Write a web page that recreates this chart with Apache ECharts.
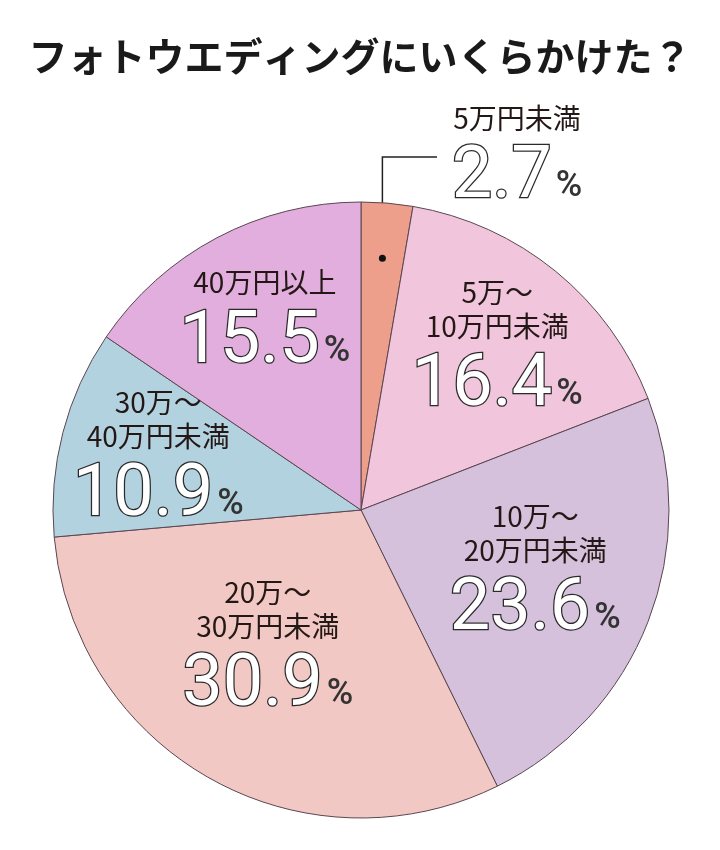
<!DOCTYPE html>
<html>
<head>
<meta charset="utf-8">
<script src="https://cdn.jsdelivr.net/npm/echarts@6/dist/echarts.min.js"></script>
<style>html,body{margin:0;padding:0;background:#fff;}#c{width:720px;height:850px;}</style>
</head>
<body>
<div id="c"></div>
<script>
const titleText = 'フォトウエディングにいくらかけた？';
const categories = ['5万円未満', '5万～10万円未満', '10万～20万円未満', '20万～30万円未満', '30万～40万円未満', '40万円以上'];
const values = [2.7, 16.4, 23.6, 30.9, 10.9, 15.5];
const colors = ['#EE9F8B', '#F1C5DB', '#D6C1DD', '#F1C8C3', '#B3D2E0', '#E2AEDD'];

// layout / styling
const CX = 361, CY = 510, R = 308;
const labelDist = [0, 214, 184, 164, 210, 214];
const labelAngleAdj = [0, 0.3, -2.5, 5.3, 0.6, 1.2];
const labelDy = 4;

const total = values.reduce((a, b) => a + b, 0);
function midAngle(i) {
  let s = 0;
  for (let k = 0; k < i; k++) s += values[k];
  return (s + values[i] / 2) / total * 2 * Math.PI;
}

const chart = echarts.init(document.getElementById('c'), null, {renderer: 'canvas'});

const data = categories.map((c, i) => {
  const item = {name: c, value: values[i], itemStyle: {color: colors[i]}};
  if (i === 0) {
    item.label = {position: 'outside'};
    item.labelLine = {show: true, lineStyle: {color: '#222', width: 1.5}};
  }
  return item;
});

const th0 = midAngle(0);
const dot = [CX + 0.82 * R * Math.sin(th0), CY - 0.82 * R * Math.cos(th0)];

chart.setOption({
  animation: false,
  title: {
    text: titleText,
    left: 'center',
    top: 32,
    textStyle: {fontSize: 39, fontWeight: 'bold', color: '#1a1a1a', fontFamily: '"Noto Sans CJK JP", sans-serif'}
  },
  graphic: [{
    type: 'circle',
    shape: {cx: dot[0], cy: dot[1], r: 3.5},
    style: {fill: '#111'},
    z: 100
  }],
  series: [{
    type: 'pie',
    center: [CX, CY],
    radius: [0, R],
    startAngle: 90,
    clockwise: true,
    silent: true,
    avoidLabelOverlap: false,
    itemStyle: {borderColor: '#5a4650', borderWidth: 1},
    emphasis: {disabled: true},
    labelLine: {show: false},
    label: {
      show: true,
      position: 'inside',
      formatter: function (p) {
        const n = p.name;
        const k = n.indexOf('～');
        const parts = k >= 0 ? [n.slice(0, k + 1), n.slice(k + 1)] : [n];
        return parts.map(s => '{name|' + s + '}').join('\n') + '\n{num|' + p.value.toFixed(1) + '}{pct|%}';
      },
      rich: {
        name: {fontSize: 28, color: '#231815', fontFamily: '"Noto Sans CJK JP", sans-serif', lineHeight: 34, align: 'center'},
        num: {fontSize: 72, color: '#ffffff', fontFamily: 'Roboto', fontWeight: 400, textBorderColor: '#2a2a2a', textBorderWidth: 2.5, lineHeight: 80, verticalAlign: 'bottom'},
        pct: {fontSize: 36, color: '#333', fontFamily: 'Roboto', fontWeight: 500, verticalAlign: 'bottom', lineHeight: 80, padding: [0, 0, 10, 4]}
      }
    },
    labelLayout: function (params) {
      const i = params.dataIndex;
      if (i === 0) {
        const lx = CX + 156, ly = CY - 352;
        return {
          x: lx, y: ly, align: 'center', verticalAlign: 'middle',
          labelLinePoints: [[dot[0], dot[1]], [dot[0], 157], [lx - 80, 157]]
        };
      }
      const th = midAngle(i) + labelAngleAdj[i] * Math.PI / 180;
      return {
        x: CX + labelDist[i] * Math.sin(th),
        y: CY - labelDist[i] * Math.cos(th) + labelDy,
        align: 'center',
        verticalAlign: 'middle'
      };
    },
    data: data
  }]
});
</script>
</body>
</html>
